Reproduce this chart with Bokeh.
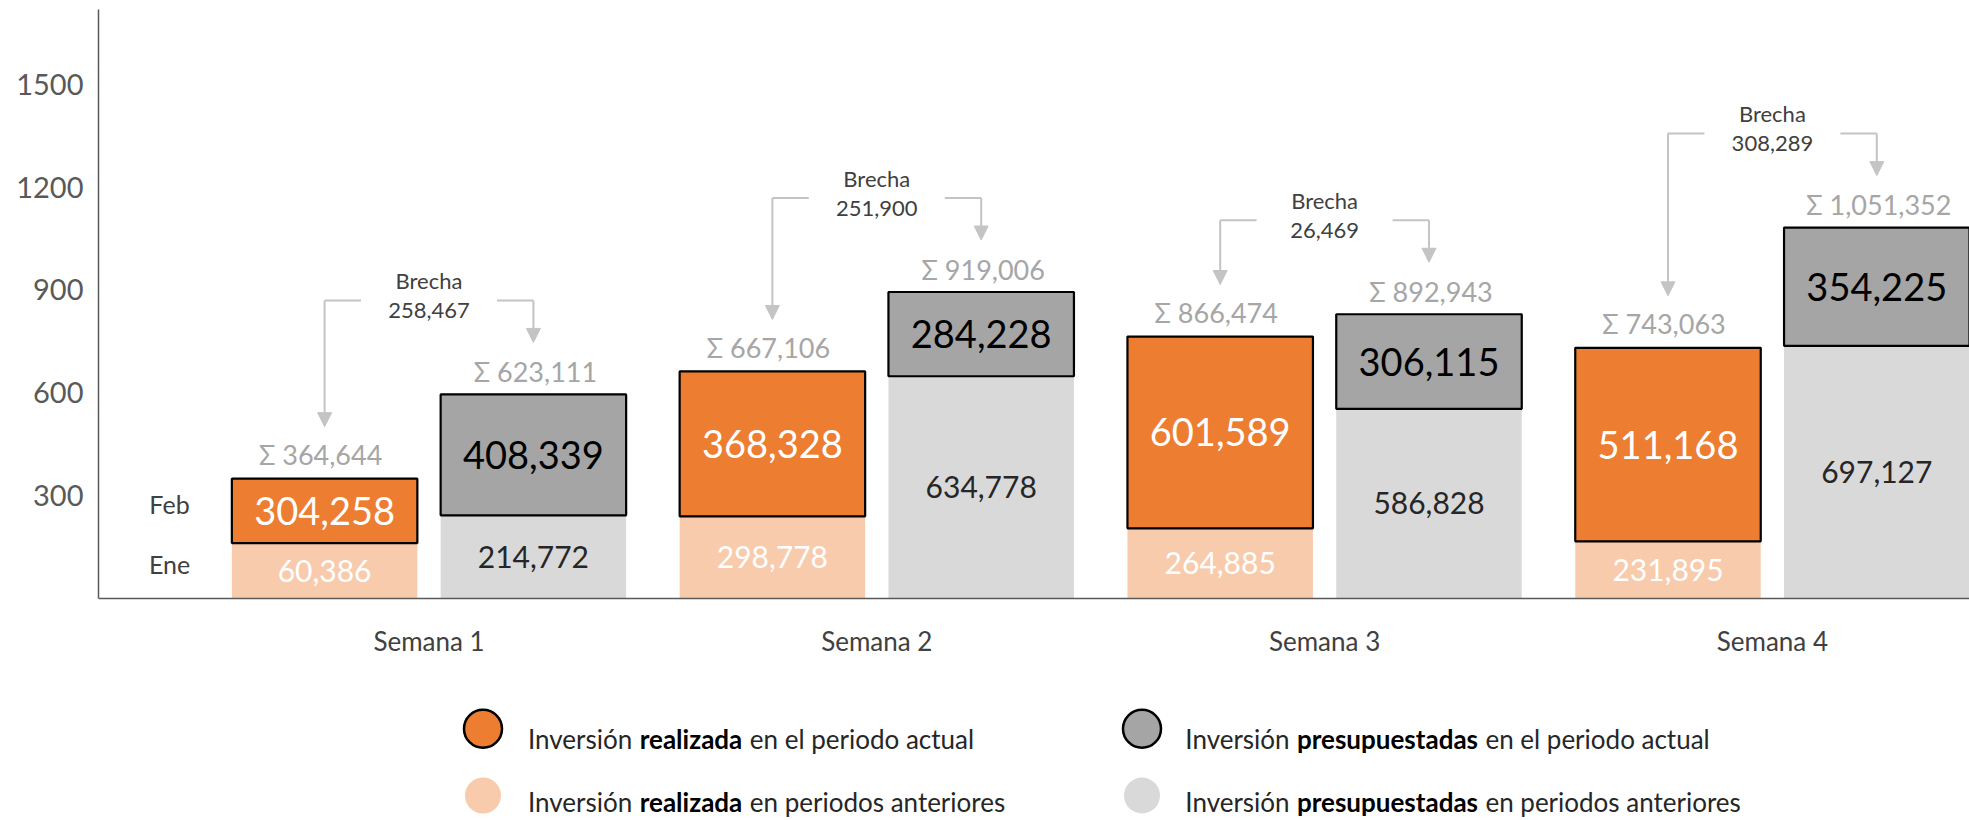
from bokeh.plotting import figure
from bokeh.models import ColumnDataSource, Range1d, FixedTicker, Arrow, NormalHead
from bokeh.core.properties import value
from bokeh.embed import file_html
from bokeh.resources import INLINE

# ---------------- data ----------------
weeks = ["Semana 1", "Semana 2", "Semana 3", "Semana 4"]
months = ["Ene", "Feb"]
# labelled values
real_prev = [60386, 298778, 264885, 231895]     # realizada, periodos anteriores (Ene)
real_curr = [304258, 368328, 601589, 511168]    # realizada, periodo actual (Feb)
pres_prev = [214772, 634778, 586828, 697127]    # presupuestadas, periodos anteriores
pres_curr = [408339, 284228, 306115, 354225]    # presupuestadas, periodo actual
# segment heights as drawn against the value axis
real_prev_h = [161, 239, 204, 166]
real_curr_h = [188, 423, 560, 565]
pres_prev_h = [242, 648, 553, 737]
pres_curr_h = [353, 246, 276, 345]
y_ticks = [300, 600, 900, 1200, 1500]
legend_entries = [
    ("Inversión", "realizada", "en el periodo actual"),
    ("Inversión", "presupuestadas", "en el periodo actual"),
    ("Inversión", "realizada", "en periodos anteriores"),
    ("Inversión", "presupuestadas", "en periodos anteriores"),
]

# ---------------- style / layout ----------------
C_OR = "#ED7D31"
C_OR_L = "#F8CBAD"
C_GR = "#A5A5A5"
C_GR_L = "#D9D9D9"
C_TXT = "#404040"
C_SUM = "#A6A6A6"
C_CONN = "#C4C4C4"
FONT = value("Lato")

W, H = 1969, 820
LEFT, TOP = 98, 9
STEP = 447.8          # px between weeks
KY = 0.3425           # px per axis unit
AXIS_PY = 597.7       # px (from top) of value 0
FIRST_PX = 428.5      # px of first week centre
OFF = 104.4 / STEP
BAR_W = 185.5 / STEP

x0 = 1 - (FIRST_PX - LEFT) / STEP
x1 = x0 + (W - LEFT) / STEP
y1 = (AXIS_PY - TOP) / KY
y0 = y1 - (H - TOP) / KY


def fx(px):
    return x0 + (px - LEFT) / STEP


def fy(py):
    return (AXIS_PY - py) / KY


def dx(px):
    return px / STEP


def dy(px):
    return px / KY


def fmt(v):
    return f"{v:,}"


idx = list(range(1, len(weeks) + 1))
xo = [i - OFF for i in idx]
xg = [i + OFF for i in idx]
ro_top = [a + b for a, b in zip(real_prev_h, real_curr_h)]
go_top = [a + b for a, b in zip(pres_prev_h, pres_curr_h)]
real_tot = [a + b for a, b in zip(real_prev, real_curr)]
pres_tot = [a + b for a, b in zip(pres_prev, pres_curr)]
gap = [g - r for g, r in zip(pres_tot, real_tot)]
level = [max(a, b) + dy(94) for a, b in zip(ro_top, go_top)]

src = ColumnDataSource(dict(
    idx=idx, xo=xo, xg=xg,
    rp_h=real_prev_h, ro_top=ro_top, gp_h=pres_prev_h, go_top=go_top,
    rp_mid=[h / 2 for h in real_prev_h],
    rc_mid=[a + b / 2 for a, b in zip(real_prev_h, real_curr_h)],
    gp_mid=[h / 2 for h in pres_prev_h],
    gc_mid=[a + b / 2 for a, b in zip(pres_prev_h, pres_curr_h)],
    rp_lbl=[fmt(v) for v in real_prev], rc_lbl=[fmt(v) for v in real_curr],
    gp_lbl=[fmt(v) for v in pres_prev], gc_lbl=[fmt(v) for v in pres_curr],
    rs_x=[x - dx(4) for x in xo], rs_y=[t + dy(24) for t in ro_top],
    gs_x=[x + dx(2) for x in xg], gs_y=[t + dy(23) for t in go_top],
    rs_lbl=["Σ " + fmt(v) for v in real_tot], gs_lbl=["Σ " + fmt(v) for v in pres_tot],
    b1_y=[l + dy(20) for l in level], b2_y=[l - dy(10) for l in level],
    b_lbl=[fmt(v) for v in gap],
    level=level,
    hl_end=[i - dx(68) for i in idx], hr_start=[i + dx(68) for i in idx],
    r_tip=[t + dy(52) for t in ro_top], g_tip=[t + dy(52) for t in go_top],
))

p = figure(width=W, height=H, output_backend="svg", toolbar_location=None, tools="",
           x_range=Range1d(x0, x1), y_range=Range1d(y0, y1),
           min_border_left=LEFT, min_border_right=0, min_border_top=TOP, min_border_bottom=0,
           outline_line_color=None, background_fill_color="white", border_fill_color="white")
p.xgrid.visible = False
p.ygrid.visible = False

# axes
p.yaxis.ticker = FixedTicker(ticks=y_ticks)
p.yaxis.bounds = (0, y1)
p.yaxis.axis_line_color = "#595959"
p.yaxis.axis_line_width = 1.5
p.yaxis.major_tick_line_color = None
p.yaxis.minor_tick_line_color = None
p.yaxis.major_tick_out = 0
p.yaxis.major_label_standoff = 15
p.yaxis.major_label_text_font = "Lato"
p.yaxis.major_label_text_font_size = "29px"
p.yaxis.major_label_text_color = "#595959"

p.xaxis.fixed_location = 0
p.xaxis.ticker = FixedTicker(ticks=idx)
p.xaxis.major_label_overrides = {i: w for i, w in zip(idx, weeks)}
p.xaxis.axis_line_color = "#595959"
p.xaxis.axis_line_width = 1.5
p.xaxis.major_tick_line_color = None
p.xaxis.minor_tick_line_color = None
p.xaxis.major_tick_out = 0
p.xaxis.major_label_standoff = 27
p.xaxis.major_label_text_font = "Lato"
p.xaxis.major_label_text_font_size = "26px"
p.xaxis.major_label_text_color = C_TXT

# bars
p.vbar(x="xo", width=BAR_W, bottom=0, top="rp_h", fill_color=C_OR_L, line_color=None, source=src)
p.vbar(x="xg", width=BAR_W, bottom=0, top="gp_h", fill_color=C_GR_L, line_color=None, source=src)
p.vbar(x="xo", width=BAR_W, bottom="rp_h", top="ro_top", fill_color=C_OR,
       line_color="black", line_width=2.2, source=src)
p.vbar(x="xg", width=BAR_W, bottom="gp_h", top="go_top", fill_color=C_GR,
       line_color="black", line_width=2.2, source=src)


# bar labels
def txt(x, y, t, size, color, style="normal", align="center"):
    p.text(x=x, y=y, text=t, source=src, text_font=FONT, text_font_size=size,
           text_color=color, text_font_style=style, text_align=align, text_baseline="middle")


txt("xo", "rp_mid", "rp_lbl", "30px", "white")
txt("xo", "rc_mid", "rc_lbl", "38px", "white")
txt("xg", "gp_mid", "gp_lbl", "30px", "#262626")
txt("xg", "gc_mid", "gc_lbl", "38px", "black")
txt("rs_x", "rs_y", "rs_lbl", "27px", C_SUM)
txt("gs_x", "gs_y", "gs_lbl", "27px", C_SUM)
txt("idx", "b1_y", value("Brecha"), "22px", C_TXT)
txt("idx", "b2_y", "b_lbl", "22px", C_TXT)

# connectors
p.segment(x0="xo", y0="level", x1="hl_end", y1="level", line_color=C_CONN, line_width=2, source=src)
p.segment(x0="hr_start", y0="level", x1="xg", y1="level", line_color=C_CONN, line_width=2, source=src)
for xcol, tip in (("xo", "r_tip"), ("xg", "g_tip")):
    p.add_layout(Arrow(end=NormalHead(size=14, fill_color=C_CONN, line_color=C_CONN),
                       x_start=xcol, y_start="level", x_end=xcol, y_end=tip, source=src,
                       line_color=C_CONN, line_width=2))

# month labels beside first week
p.text(x=[fx(169)] * 2,
       y=[real_prev_h[0] / 2 + dy(7), real_prev_h[0] + real_curr_h[0] / 2 + dy(7)],
       text=months, text_font=FONT, text_font_size="25px", text_color=C_TXT,
       text_align="center", text_baseline="middle")

# legend (drawn as glyphs below the axis)
BOLD_EM = {"a": .52, "c": .46, "d": .58, "e": .54, "i": .26, "l": .26, "p": .58,
           "r": .39, "s": .43, "t": .37, "u": .58, "z": .47}
LG_SIZE = 26
circle_px = [482.5, 1141.5]
bold_cx = [690.5, 1387.0]
row_text_py = [738.0, 801.0]
row_circ_py = [728.3, 795.0]
styles = [(C_OR, "black", 2.5, 38), (C_GR, "black", 2.5, 38), (C_OR_L, None, 0, 36), (C_GR_L, None, 0, 36)]
for k, (pre, bold, post) in enumerate(legend_entries):
    col, row = k % 2, k // 2
    fill, lc, lw, sz = styles[k]
    p.scatter(x=[fx(circle_px[col])], y=[fy(row_circ_py[row])], size=sz, marker="circle",
              fill_color=fill, line_color=lc, line_width=lw)
    bw = sum(BOLD_EM.get(ch, .5) for ch in bold) * LG_SIZE
    ty = fy(row_text_py[row])
    common = dict(text_font=FONT, text_font_size=f"{LG_SIZE}px", text_baseline="middle")
    p.text(x=[fx(bold_cx[col] - bw / 2 - 6)], y=[ty], text=[pre], text_align="right",
           text_color="#262626", **common)
    p.text(x=[fx(bold_cx[col])], y=[ty], text=[bold], text_align="center",
           text_font_style="bold", text_color="black", **common)
    p.text(x=[fx(bold_cx[col] + bw / 2 + 6)], y=[ty], text=[post], text_align="left",
           text_color="#262626", **common)

open("out.html", "w").write(file_html(p, INLINE))
